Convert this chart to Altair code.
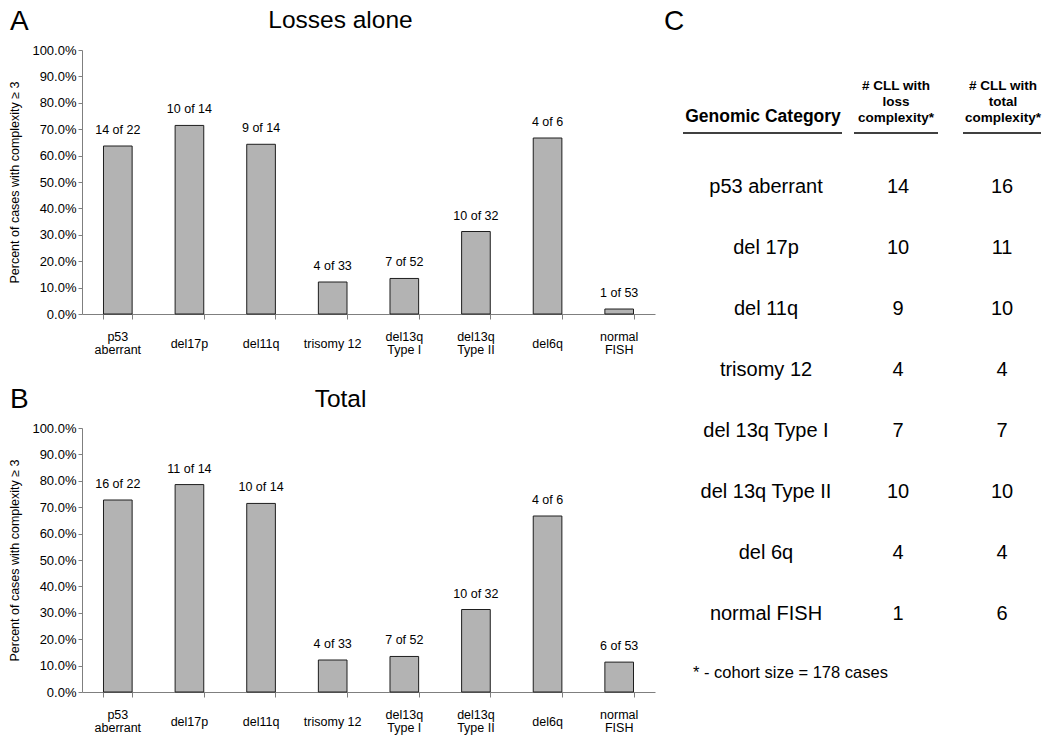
import altair as alt
import pandas as pd

# ---------------- data ----------------
categories = ["p53\naberrant", "del17p", "del11q", "trisomy 12",
              "del13q\nType I", "del13q\nType II", "del6q", "normal\nFISH"]
loss_n = [14, 10, 9, 4, 7, 10, 4, 1]
total_n = [16, 11, 10, 4, 7, 10, 4, 6]
cohort_n = [22, 14, 14, 33, 52, 32, 6, 53]

panel_titles = ["Losses alone", "Total"]
panel_letters = ["A", "B", "C"]
y_title = "Percent of cases with complexity \u2265 3"
y_ticks = [0.0, 0.1, 0.2, 0.3, 0.4, 0.5, 0.6, 0.7, 0.8, 0.9, 1.0]

table_names = ["p53 aberrant", "del 17p", "del 11q", "trisomy 12",
               "del 13q Type I", "del 13q Type II", "del 6q", "normal FISH"]
table_loss = [14, 10, 9, 4, 7, 10, 4, 1]
table_total = [16, 11, 10, 4, 7, 10, 4, 6]
table_header = ["Genomic Category", "# CLL with\nloss\ncomplexity*",
                "# CLL with\ntotal\ncomplexity*"]
footnote = "* - cohort size = 178 cases"

FONT = "Liberation Sans"
AXIS_GRAY = "#7f7f7f"
PLOT_W, PLOT_H = 573, 264


def bar_panel(counts, title, letter, title_y):
    df = pd.DataFrame({"cat": categories, "n": counts, "d": cohort_n})
    df["label"] = [f"{n} of {d}" for n, d in zip(counts, cohort_n)]
    base = alt.Chart(df).transform_calculate(pct="datum.n / datum.d")
    x = alt.X(
        "cat:N", sort=categories,
        scale=alt.Scale(paddingInner=0.6, paddingOuter=0.3),
        axis=alt.Axis(title=None, labels=False, tickBand="extent",
                      tickSize=5, domainColor=AXIS_GRAY, tickColor=AXIS_GRAY),
    )
    y = alt.Y(
        "pct:Q", scale=alt.Scale(domain=[0, 1], nice=False),
        axis=alt.Axis(values=y_ticks, format=".1%", title=y_title, grid=False,
                      tickSize=4, labelPadding=2, labelFontSize=13,
                      labelColor="black", domainColor=AXIS_GRAY,
                      tickColor=AXIS_GRAY, titleFontSize=12.5,
                      titleFontWeight="normal", titleColor="black",
                      titlePadding=10),
    )
    bars = base.mark_bar(fill="#b3b3b3", stroke="#1e1e1e", strokeWidth=1).encode(x=x, y=y)
    labels = base.mark_text(baseline="alphabetic", dy=-12, fontSize=12.5,
                            color="black").encode(x=x, y=y, text="label:N")
    # category labels under the axis (two-line ones start higher so that
    # single-line labels sit centred between their lines)
    cat_two = base.transform_filter("indexof(datum.cat, '\\n') >= 0").mark_text(
        baseline="middle", fontSize=12.5, color="black", lineBreak="\n", lineHeight=13
    ).encode(x=x, y=alt.value(PLOT_H + 23), text="cat:N")
    cat_one = base.transform_filter("indexof(datum.cat, '\\n') < 0").mark_text(
        baseline="middle", fontSize=12.5, color="black"
    ).encode(x=x, y=alt.value(PLOT_H + 29.5), text="cat:N")
    letter_txt = alt.Chart(pd.DataFrame({"t": [letter]})).mark_text(
        align="left", baseline="top", fontSize=28, color="black"
    ).encode(x=alt.value(-72), y=alt.value(-42), text="t:N")
    title_txt = alt.Chart(pd.DataFrame({"t": [title]})).mark_text(
        align="center", baseline="alphabetic", fontSize=24.5, color="black"
    ).encode(x=alt.value(PLOT_W / 2 - 28), y=alt.value(title_y), text="t:N")
    return alt.layer(bars, labels, cat_two, cat_one, letter_txt, title_txt).properties(
        width=PLOT_W, height=PLOT_H
    )


panel_a = bar_panel(loss_n, panel_titles[0], panel_letters[0], -22)
panel_b = bar_panel(total_n, panel_titles[1], panel_letters[1], -21)

# ---------------- table (panel C) ----------------
TW, TH = 380, 630
COL_X = [105, 237, 341]
rows_df = pd.DataFrame({"name": table_names,
                        "loss": [str(v) for v in table_loss],
                        "total": [str(v) for v in table_total]})
row_y = alt.Y("name:N", sort=table_names,
              scale=alt.Scale(type="point", range=[137, 564], padding=0),
              axis=None)

row_layers = []
for field, cx in zip(["name", "loss", "total"], COL_X):
    row_layers.append(
        alt.Chart(rows_df).mark_text(fontSize=20, color="black",
                                     baseline="middle", align="center")
        .encode(y=row_y, x=alt.value(cx), text=f"{field}:N")
    )

head_layers = [
    alt.Chart(pd.DataFrame({"t": [table_header[0]]})).mark_text(
        fontSize=17.5, fontWeight="bold", color="black", baseline="middle")
    .encode(x=alt.value(102), y=alt.value(67), text="t:N")
]
for h, cx in zip(table_header[1:], [235, 342]):
    head_layers.append(
        alt.Chart(pd.DataFrame({"t": [h]})).mark_text(
            fontSize=13.5, fontWeight="bold", color="black", baseline="middle",
            lineBreak="\n", lineHeight=16)
        .encode(x=alt.value(cx), y=alt.value(36), text="t:N")
    )

rule_layers = []
for x1, x2 in [(22, 181), (193, 277), (302, 380)]:
    rule_layers.append(
        alt.Chart(pd.DataFrame({"k": [0]})).mark_rule(color="black", strokeWidth=1.3)
        .encode(x=alt.value(x1), x2=alt.value(x2), y=alt.value(83))
    )

foot = alt.Chart(pd.DataFrame({"t": [footnote]})).mark_text(
    fontSize=16.5, color="black", align="left", baseline="middle"
).encode(x=alt.value(32), y=alt.value(623), text="t:N")

letter_c = alt.Chart(pd.DataFrame({"t": [panel_letters[2]]})).mark_text(
    align="left", baseline="top", fontSize=28, color="black"
).encode(x=alt.value(3), y=alt.value(-42), text="t:N")

table = alt.layer(*row_layers, *head_layers, *rule_layers, foot, letter_c).properties(
    width=TW, height=TH
)

chart = alt.hconcat(
    alt.vconcat(panel_a, panel_b, spacing=29),
    table,
    spacing=6,
).properties(padding=0).configure(font=FONT).configure_view(stroke=None)

chart.save("out.html", embed_options={"renderer": "svg", "actions": False})
